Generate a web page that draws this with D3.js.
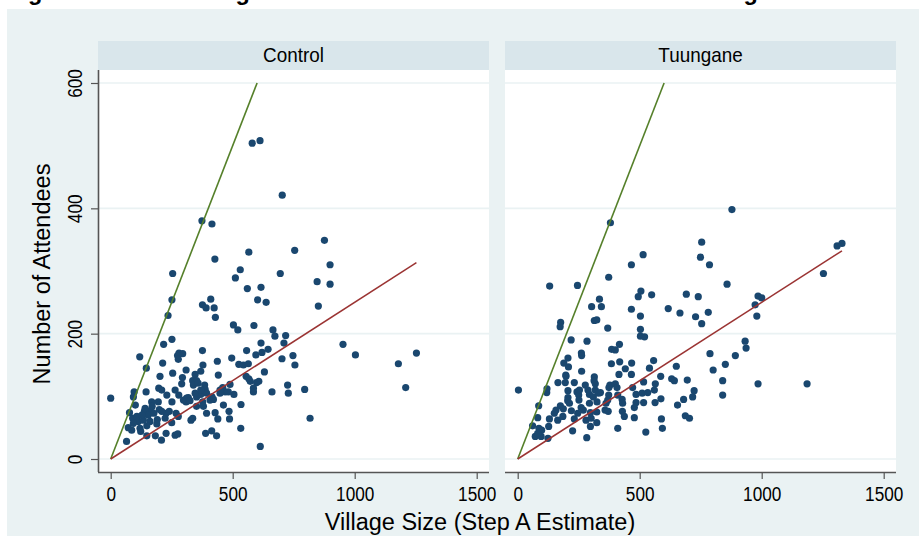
<!DOCTYPE html>
<html>
<head>
<meta charset="utf-8">
<script src="https://cdn.jsdelivr.net/npm/d3@7"></script>
<style>
  html, body { margin: 0; padding: 0; background: #fff; }
  svg { display: block; font-family: "Liberation Sans", Arial, sans-serif; }
</style>
</head>
<body>
<svg id="chart"></svg>
<script>
const width = 919;
const height = 536;

// panel names
const panelNames = ['Control', 'Tuungane'];
const xTicks = [0, 500, 1000, 1500];
const yTicks = [0, 200, 400, 600];

// village size (x) vs number of attendees (y)
const controlPts = [
    [0, 97], [580, 504], [612, 508], [703, 421], [374, 380], [415, 375], [876, 349], [754, 333],
    [566, 330], [427, 319], [899, 310], [254, 296], [695, 296], [531, 302], [511, 289], [560, 272],
    [616, 274], [846, 283], [899, 279], [251, 254], [410, 255], [602, 254], [637, 250], [376, 246],
    [391, 241], [424, 241], [851, 244], [235, 229], [429, 226], [503, 214], [521, 206], [587, 213],
    [665, 206], [673, 196], [717, 197], [251, 191], [217, 183], [616, 185], [710, 185], [645, 175],
    [952, 183], [1003, 166], [1179, 152], [1253, 169], [1209, 114], [817, 65], [613, 20], [119, 163],
    [146, 145], [280, 169], [295, 168], [274, 165], [277, 159], [376, 173], [557, 173], [496, 161],
    [595, 166], [620, 170], [702, 160], [747, 165], [213, 153], [437, 156], [378, 150], [525, 151],
    [544, 150], [564, 152], [755, 150], [202, 132], [254, 137], [309, 142], [346, 135], [369, 140],
    [441, 134], [555, 132], [630, 139], [294, 130], [336, 125], [352, 125], [566, 128], [607, 124],
    [598, 122], [572, 124], [291, 120], [339, 118], [358, 121], [385, 118], [197, 113], [209, 110],
    [489, 119], [725, 118], [96, 107], [145, 107], [264, 110], [387, 111], [459, 114], [469, 107],
    [585, 113], [585, 107], [661, 107], [795, 111], [728, 105], [505, 103], [230, 102], [279, 102],
    [311, 97], [352, 99], [369, 103], [393, 105], [421, 95], [448, 105], [93, 99], [101, 86],
    [168, 91], [195, 91], [251, 91], [309, 91], [377, 91], [407, 94], [462, 86], [534, 87],
    [77, 74], [138, 76], [165, 78], [199, 79], [227, 73], [268, 73], [352, 84], [380, 84],
    [393, 73], [428, 74], [485, 76], [90, 65], [113, 60], [134, 62], [161, 60], [191, 63],
    [223, 65], [277, 68], [329, 62], [336, 65], [439, 64], [487, 64], [72, 50], [86, 46],
    [120, 49], [148, 53], [189, 56], [250, 58], [123, 44], [148, 37], [183, 37], [208, 30],
    [65, 28], [227, 41], [264, 38], [275, 40], [389, 41], [414, 45], [434, 37], [533, 49],
    [93, 57], [107, 68], [154, 70], [177, 73], [209, 76], [240, 76], [298, 94], [318, 98],
    [346, 105], [369, 110], [415, 99], [448, 110], [482, 107], [170, 84], [141, 81], [128, 70],
    [325, 93]
];

const tuunganePts = [
    [3, 110], [878, 398], [380, 377], [754, 346], [514, 326], [1309, 340], [1329, 344], [749, 322],
    [786, 310], [466, 310], [1253, 296], [373, 290], [131, 276], [245, 277], [858, 279], [505, 268],
    [494, 259], [549, 262], [691, 263], [740, 259], [335, 255], [303, 243], [343, 243], [466, 239],
    [617, 240], [665, 233], [781, 234], [985, 260], [1000, 257], [973, 246], [503, 228], [729, 227],
    [980, 228], [754, 216], [314, 221], [324, 222], [176, 218], [174, 211], [369, 209], [503, 207],
    [503, 196], [520, 195], [219, 190], [284, 188], [932, 188], [936, 177], [417, 183], [385, 175],
    [400, 174], [261, 169], [262, 165], [788, 168], [892, 165], [206, 161], [557, 157], [189, 153],
    [208, 147], [384, 152], [418, 155], [467, 153], [441, 144], [540, 145], [650, 148], [851, 151],
    [801, 142], [262, 140], [466, 135], [415, 135], [197, 134], [314, 131], [586, 132], [516, 123],
    [631, 128], [642, 125], [695, 126], [840, 125], [985, 120], [1186, 120], [165, 122], [195, 122],
    [232, 122], [277, 118], [318, 120], [313, 125], [378, 118], [400, 120], [564, 120], [120, 112],
    [119, 106], [206, 109], [243, 107], [288, 110], [318, 110], [339, 106], [374, 114], [407, 114],
    [471, 114], [485, 103], [560, 110], [723, 109], [840, 102], [206, 98], [250, 102], [294, 103],
    [373, 102], [410, 102], [510, 105], [533, 106], [587, 96], [717, 99], [86, 85], [175, 85],
    [205, 93], [251, 94], [294, 89], [325, 91], [362, 89], [428, 95], [485, 90], [516, 90],
    [563, 90], [680, 95], [655, 86], [157, 78], [187, 80], [220, 77], [260, 82], [298, 74],
    [324, 75], [358, 78], [371, 76], [429, 76], [82, 66], [130, 64], [164, 62], [232, 64],
    [280, 62], [301, 65], [437, 68], [478, 66], [589, 64], [687, 69], [704, 65], [61, 53],
    [87, 49], [98, 46], [127, 52], [225, 45], [298, 52], [324, 58], [410, 49], [593, 49],
    [72, 36], [96, 36], [124, 33], [283, 34], [525, 43], [82, 41], [150, 73], [185, 68],
    [246, 73], [269, 78], [310, 99], [369, 94], [253, 110], [331, 105], [212, 89], [430, 89],
    [198, 132], [478, 82]
];

// reference lines: attendees = village size, and attendees = 0.25 * village size
const fullLine = [[0, 0], [600, 600]];
const quarterSlope = 0.25;

const colors = {
    outer: '#eaf2f3',
    strip: '#d9e6eb',
    grid: '#eaf2f3',
    axis: '#555555',
    dot: '#1a476f',
    full: '#55802a',
    quarter: '#9b3433'
};

const svg = d3.select('#chart')
    .attr('width', width)
    .attr('height', height);

// 背景
svg.append('rect')
    .attr('x', 0).attr('y', 0)
    .attr('width', width).attr('height', height)
    .attr('fill', '#fff');
svg.append('rect')
    .attr('x', 7).attr('y', 9)
    .attr('width', width - 7).attr('height', height - 9)
    .attr('fill', colors.outer);

// title (cut off at the top of the picture, only descenders show)
svg.append('text')
    .attr('x', 7)
    .attr('y', -0.5)
    .attr('font-size', 23.5)
    .attr('font-weight', 'bold')
    .attr('fill', '#000')
    .text('Figure 8: The Meeting Attendance as a Function of Estimated Village Size');

const plotTop = 70;
const plotBottom = 472;
const stripTop = 41;
const panelX = [98, 505];
const panelW = 391;

const y = d3.scaleLinear().domain([0, 600]).range([459, 83]);

const allPts = [controlPts, tuunganePts];

panelNames.forEach((name, i) => {
    const x0 = panelX[i];
    const x = d3.scaleLinear().domain([0, 1500]).range([x0 + 12.7, x0 + 378.7]);
    const g = svg.append('g');
    const pts = allPts[i];

    // strip
    g.append('rect')
        .attr('x', x0).attr('y', stripTop)
        .attr('width', panelW).attr('height', plotTop - stripTop)
        .attr('fill', colors.strip);
    g.append('text')
        .attr('transform', 'translate(' + (x0 + panelW / 2) + ',62) scale(0.9,1)')
        .attr('text-anchor', 'middle')
        .attr('font-size', 21)
        .attr('fill', '#000')
        .text(name);

    // plot area
    g.append('rect')
        .attr('x', x0).attr('y', plotTop)
        .attr('width', panelW).attr('height', plotBottom - plotTop)
        .attr('fill', '#fff');

    // grid
    g.append('g')
        .selectAll('line')
        .data(yTicks)
        .join('line')
        .attr('x1', x0).attr('x2', x0 + panelW)
        .attr('y1', d => y(d)).attr('y2', d => y(d))
        .attr('stroke', colors.grid)
        .attr('stroke-width', 1.6);

    // points
    g.append('g')
        .selectAll('circle')
        .data(pts)
        .join('circle')
        .attr('cx', d => x(d[0]))
        .attr('cy', d => y(d[1]))
        .attr('r', 3.6)
        .attr('fill', colors.dot);

    const line = d3.line().x(d => x(d[0])).y(d => y(d[1]));
    const maxX = d3.max(pts, d => d[0]);

    g.append('path')
        .datum(fullLine)
        .attr('fill', 'none')
        .attr('stroke', colors.full)
        .attr('stroke-width', 1.6)
        .attr('d', line);

    g.append('path')
        .datum([[0, 0], [maxX, maxX * quarterSlope]])
        .attr('fill', 'none')
        .attr('stroke', colors.quarter)
        .attr('stroke-width', 1.5)
        .attr('d', line);

    // x axis
    const axisX = g.append('g')
        .attr('transform', 'translate(0,' + plotBottom + ')')
        .call(d3.axisBottom(x).tickValues(xTicks).tickSize(7).tickPadding(8).tickFormat(d3.format('d')));
    axisX.select('.domain')
        .attr('d', 'M' + x0 + ',0.5H' + (x0 + panelW))
        .attr('stroke', colors.axis)
        .attr('stroke-width', 1.6);
    axisX.selectAll('.tick line').attr('stroke', colors.axis).attr('stroke-width', 1.2);
    axisX.selectAll('.tick text')
        .attr('font-size', 20.5)
        .attr('font-family', '"Liberation Sans", Arial, sans-serif')
        .attr('fill', '#000')
        .attr('y', 14)
        .attr('transform', 'scale(0.84,1)');

    // y axis only on the first panel
    if (i === 0) {
        const axisY = g.append('g')
            .attr('transform', 'translate(' + x0 + ',0)')
            .call(d3.axisLeft(y).tickValues(yTicks).tickSize(7).tickPadding(0).tickFormat(d3.format('d')));
        axisY.select('.domain')
            .attr('d', 'M0.5,' + plotTop + 'V' + plotBottom)
            .attr('stroke', colors.axis)
            .attr('stroke-width', 1.6);
        axisY.selectAll('.tick line').attr('stroke', colors.axis).attr('stroke-width', 1.2);
        axisY.selectAll('.tick text')
            .attr('font-size', 20.5)
            .attr('font-family', '"Liberation Sans", Arial, sans-serif')
            .attr('fill', '#000')
            .attr('x', null).attr('dy', null)
            .attr('text-anchor', 'middle')
            .attr('transform', 'translate(-16,0) rotate(-90) scale(0.84,1)');
    }
});

// axis titles
svg.append('text')
    .attr('transform', 'translate(50,274) rotate(-90)')
    .attr('text-anchor', 'middle')
    .attr('font-size', 23.5)
    .attr('fill', '#000')
    .text('Number of Attendees');

svg.append('text')
    .attr('x', 480)
    .attr('y', 530)
    .attr('text-anchor', 'middle')
    .attr('font-size', 23.5)
    .attr('fill', '#000')
    .text('Village Size (Step A Estimate)');
</script>
</body>
</html>
